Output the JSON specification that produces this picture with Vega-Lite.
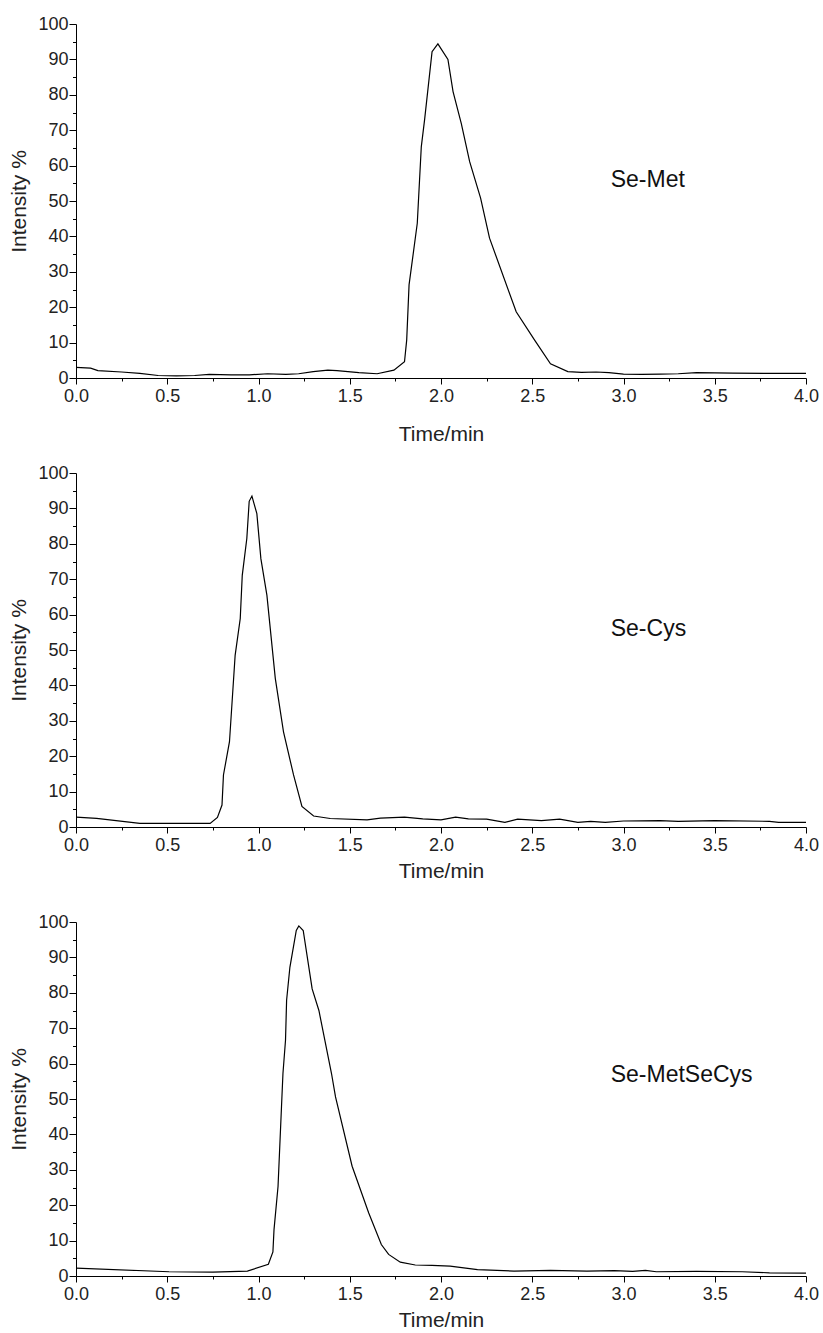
{
  "$schema": "https://vega.github.io/schema/vega-lite/v6.json",
  "background": "white",
  "padding": {"left": 8, "top": 15, "right": 5, "bottom": 5},
  "config": {
    "view": {"stroke": null},
    "font": "Liberation Sans",
    "axis": {
      "grid": false,
      "domainColor": "#000",
      "domainWidth": 1,
      "tickColor": "#000",
      "tickWidth": 1,
      "labelColor": "#222",
      "labelFont": "Liberation Sans",
      "labelFontSize": 18,
      "titleFont": "Liberation Sans",
      "titleFontSize": 21,
      "titleFontWeight": "normal",
      "titleColor": "#222",
      "labelFlush": false,
      "labelOverlap": false
    }
  },
  "datasets": {
    "met": [
      {"t":0,"i":3.0},{"t":0.08,"i":2.8},{"t":0.12,"i":2.1},{"t":0.25,"i":1.7},{"t":0.35,"i":1.3},{"t":0.45,"i":0.7},{"t":0.55,"i":0.6},{"t":0.65,"i":0.7},{"t":0.73,"i":1.0},{"t":0.85,"i":0.9},{"t":0.95,"i":0.9},{"t":1.05,"i":1.2},{"t":1.15,"i":1.0},{"t":1.22,"i":1.2},{"t":1.3,"i":1.8},{"t":1.38,"i":2.2},{"t":1.43,"i":2.1},{"t":1.55,"i":1.5},{"t":1.65,"i":1.2},{"t":1.742,"i":2.2},{"t":1.80,"i":4.6},{"t":1.812,"i":10.7},{"t":1.825,"i":26.3},{"t":1.870,"i":43.7},{"t":1.892,"i":65.3},{"t":1.910,"i":72.9},{"t":1.951,"i":92.2},{"t":1.983,"i":94.4},{"t":2.038,"i":90.0},{"t":2.066,"i":80.9},{"t":2.111,"i":71.9},{"t":2.157,"i":61.1},{"t":2.217,"i":50.8},{"t":2.266,"i":39.5},{"t":2.412,"i":18.7},{"t":2.513,"i":10.7},{"t":2.60,"i":4.0},{"t":2.695,"i":1.8},{"t":2.77,"i":1.6},{"t":2.85,"i":1.7},{"t":2.92,"i":1.5},{"t":3.0,"i":1.1},{"t":3.1,"i":1.0},{"t":3.2,"i":1.1},{"t":3.3,"i":1.2},{"t":3.4,"i":1.5},{"t":3.6,"i":1.4},{"t":3.8,"i":1.3},{"t":4.0,"i":1.3}
    ],
    "cys": [
      {"t":0,"i":2.8},{"t":0.113,"i":2.45},{"t":0.35,"i":1.0},{"t":0.57,"i":1.0},{"t":0.735,"i":1.0},{"t":0.775,"i":2.7},{"t":0.80,"i":6.2},{"t":0.808,"i":14.7},{"t":0.841,"i":24.1},{"t":0.872,"i":48.5},{"t":0.90,"i":58.9},{"t":0.911,"i":71.1},{"t":0.936,"i":81.5},{"t":0.949,"i":92.0},{"t":0.964,"i":93.5},{"t":0.991,"i":88.5},{"t":1.013,"i":75.8},{"t":1.046,"i":65.5},{"t":1.092,"i":42.0},{"t":1.137,"i":26.9},{"t":1.192,"i":14.7},{"t":1.238,"i":5.8},{"t":1.302,"i":3.1},{"t":1.393,"i":2.4},{"t":1.595,"i":2.0},{"t":1.668,"i":2.5},{"t":1.8,"i":2.8},{"t":1.9,"i":2.3},{"t":2.0,"i":2.0},{"t":2.08,"i":2.8},{"t":2.15,"i":2.3},{"t":2.25,"i":2.2},{"t":2.35,"i":1.3},{"t":2.42,"i":2.2},{"t":2.55,"i":1.8},{"t":2.65,"i":2.2},{"t":2.75,"i":1.3},{"t":2.82,"i":1.6},{"t":2.9,"i":1.3},{"t":3.0,"i":1.7},{"t":3.2,"i":1.8},{"t":3.3,"i":1.6},{"t":3.5,"i":1.8},{"t":3.8,"i":1.6},{"t":3.85,"i":1.3},{"t":4.0,"i":1.3}
    ],
    "mix": [
      {"t":0,"i":2.25},{"t":0.51,"i":1.2},{"t":0.75,"i":1.1},{"t":0.939,"i":1.4},{"t":1.054,"i":3.3},{"t":1.079,"i":6.8},{"t":1.085,"i":13.1},{"t":1.107,"i":25.3},{"t":1.126,"i":47.8},{"t":1.134,"i":57.2},{"t":1.148,"i":66.6},{"t":1.154,"i":77.9},{"t":1.172,"i":87.2},{"t":1.207,"i":97.6},{"t":1.221,"i":98.9},{"t":1.245,"i":97.6},{"t":1.294,"i":81.1},{"t":1.331,"i":75.0},{"t":1.40,"i":57.2},{"t":1.422,"i":50.6},{"t":1.513,"i":31.0},{"t":1.604,"i":17.8},{"t":1.673,"i":8.9},{"t":1.713,"i":6.1},{"t":1.777,"i":3.9},{"t":1.859,"i":3.1},{"t":1.95,"i":3.0},{"t":2.05,"i":2.8},{"t":2.2,"i":1.8},{"t":2.4,"i":1.4},{"t":2.6,"i":1.6},{"t":2.8,"i":1.4},{"t":2.95,"i":1.5},{"t":3.05,"i":1.3},{"t":3.12,"i":1.6},{"t":3.18,"i":1.2},{"t":3.4,"i":1.3},{"t":3.65,"i":1.2},{"t":3.8,"i":0.9},{"t":4.0,"i":0.8}
    ]
  },
  "vconcat": [
    {
      "width": 730,
      "height": 354,
      "resolve": {"axis": {"x": "independent", "y": "independent"}},
      "layer": [
        {
          "data": {"name": "met"},
          "mark": {"type": "line", "color": "#000", "strokeWidth": 1.2},
          "encoding": {
            "x": {"field": "t", "type": "quantitative", "scale": {"domain": [0, 4], "nice": false},
              "axis": {"title": "Time/min", "values": [0,0.25,0.5,0.75,1,1.25,1.5,1.75,2,2.25,2.5,2.75,3,3.25,3.5,3.75,4],
                "labelExpr": "datum.value % 0.5 == 0 ? format(datum.value, '.1f') : ''",
                "tickSize": {"condition": {"test": "datum.value % 0.5 == 0", "value": 6}, "value": 3},
                "labelPadding": 3, "titlePadding": 18}},
            "y": {"field": "i", "type": "quantitative", "scale": {"domain": [0, 100], "nice": false},
              "axis": {"title": "Intensity %", "values": [0,5,10,15,20,25,30,35,40,45,50,55,60,65,70,75,80,85,90,95,100],
                "labelExpr": "datum.value % 10 == 0 ? '' + datum.value : ''",
                "tickSize": {"condition": {"test": "datum.value % 10 == 0", "value": 7}, "value": 3.5},
                "labelPadding": 1, "titlePadding": 8}}
          }
        },
        {
          "data": {"values": [{"t": 2.93, "i": 56, "label": "Se-Met"}]},
          "mark": {"type": "text", "align": "left", "baseline": "middle", "fontSize": 23, "font": "Liberation Sans", "color": "#111"},
          "encoding": {
            "x": {"field": "t", "type": "quantitative", "axis": null},
            "y": {"field": "i", "type": "quantitative", "axis": null},
            "text": {"field": "label"}
          }
        }
      ]
    },
    {
      "width": 730,
      "height": 354,
      "resolve": {"axis": {"x": "independent", "y": "independent"}},
      "layer": [
        {
          "data": {"name": "cys"},
          "mark": {"type": "line", "color": "#000", "strokeWidth": 1.2},
          "encoding": {
            "x": {"field": "t", "type": "quantitative", "scale": {"domain": [0, 4], "nice": false},
              "axis": {"title": "Time/min", "values": [0,0.25,0.5,0.75,1,1.25,1.5,1.75,2,2.25,2.5,2.75,3,3.25,3.5,3.75,4],
                "labelExpr": "datum.value % 0.5 == 0 ? format(datum.value, '.1f') : ''",
                "tickSize": {"condition": {"test": "datum.value % 0.5 == 0", "value": 6}, "value": 3},
                "labelPadding": 3, "titlePadding": 6}},
            "y": {"field": "i", "type": "quantitative", "scale": {"domain": [0, 100], "nice": false},
              "axis": {"title": "Intensity %", "values": [0,5,10,15,20,25,30,35,40,45,50,55,60,65,70,75,80,85,90,95,100],
                "labelExpr": "datum.value % 10 == 0 ? '' + datum.value : ''",
                "tickSize": {"condition": {"test": "datum.value % 10 == 0", "value": 7}, "value": 3.5},
                "labelPadding": 1, "titlePadding": 8}}
          }
        },
        {
          "data": {"values": [{"t": 2.93, "i": 56, "label": "Se-Cys"}]},
          "mark": {"type": "text", "align": "left", "baseline": "middle", "fontSize": 23, "font": "Liberation Sans", "color": "#111"},
          "encoding": {
            "x": {"field": "t", "type": "quantitative", "axis": null},
            "y": {"field": "i", "type": "quantitative", "axis": null},
            "text": {"field": "label"}
          }
        }
      ]
    },
    {
      "width": 730,
      "height": 354,
      "resolve": {"axis": {"x": "independent", "y": "independent"}},
      "layer": [
        {
          "data": {"name": "mix"},
          "mark": {"type": "line", "color": "#000", "strokeWidth": 1.2},
          "encoding": {
            "x": {"field": "t", "type": "quantitative", "scale": {"domain": [0, 4], "nice": false},
              "axis": {"title": "Time/min", "values": [0,0.25,0.5,0.75,1,1.25,1.5,1.75,2,2.25,2.5,2.75,3,3.25,3.5,3.75,4],
                "labelExpr": "datum.value % 0.5 == 0 ? format(datum.value, '.1f') : ''",
                "tickSize": {"condition": {"test": "datum.value % 0.5 == 0", "value": 6}, "value": 3},
                "labelPadding": 3, "titlePadding": 6}},
            "y": {"field": "i", "type": "quantitative", "scale": {"domain": [0, 100], "nice": false},
              "axis": {"title": "Intensity %", "values": [0,5,10,15,20,25,30,35,40,45,50,55,60,65,70,75,80,85,90,95,100],
                "labelExpr": "datum.value % 10 == 0 ? '' + datum.value : ''",
                "tickSize": {"condition": {"test": "datum.value % 10 == 0", "value": 7}, "value": 3.5},
                "labelPadding": 1, "titlePadding": 8}}
          }
        },
        {
          "data": {"values": [{"t": 2.93, "i": 56.7, "label": "Se-MetSeCys"}]},
          "mark": {"type": "text", "align": "left", "baseline": "middle", "fontSize": 23, "font": "Liberation Sans", "color": "#111"},
          "encoding": {
            "x": {"field": "t", "type": "quantitative", "axis": null},
            "y": {"field": "i", "type": "quantitative", "axis": null},
            "text": {"field": "label"}
          }
        }
      ]
    }
  ],
  "spacing": 95,
  "bounds": "flush"
}
